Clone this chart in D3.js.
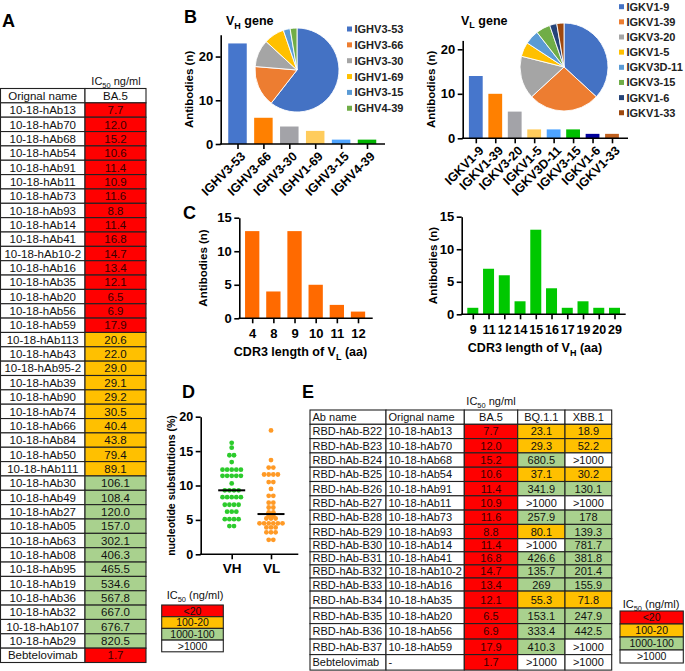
<!DOCTYPE html>
<html><head><meta charset="utf-8">
<script src="https://cdn.jsdelivr.net/npm/d3@7"></script>
<style>
body{margin:0;background:#fff}
svg{display:block}
text{font-family:"Liberation Sans",Arial,Helvetica,sans-serif}
</style>
</head><body>
<svg id="c" width="685" height="671"></svg>
<script>
// ---------------- DATA ----------------
const tableANames = ["10-18-hAb13","10-18-hAb70","10-18-hAb68","10-18-hAb54","10-18-hAb91","10-18-hAb11","10-18-hAb73","10-18-hAb93","10-18-hAb14","10-18-hAb41","10-18-hAb10-2","10-18-hAb16","10-18-hAb35","10-18-hAb20","10-18-hAb56","10-18-hAb59","10-18-hAb113","10-18-hAb43","10-18-hAb95-2","10-18-hAb39","10-18-hAb90","10-18-hAb74","10-18-hAb66","10-18-hAb84","10-18-hAb50","10-18-hAb111","10-18-hAb30","10-18-hAb49","10-18-hAb27","10-18-hAb05","10-18-hAb63","10-18-hAb08","10-18-hAb95","10-18-hAb19","10-18-hAb36","10-18-hAb32","10-18-hAb107","10-18-hAb29","Bebtelovimab"];
const tableABA5 = ["7.7","12.0","15.2","10.6","11.4","10.9","11.6","8.8","11.4","16.8","14.7","13.4","12.1","6.5","6.9","17.9","20.6","22.0","29.0","29.1","29.2","30.5","40.4","43.8","79.4","89.1","106.1","108.4","120.0","157.0","302.1","406.3","465.5","534.6","567.8","667.0","676.7","820.5","1.7"];

const vhGenes = ["IGHV3-53","IGHV3-66","IGHV3-30","IGHV1-69","IGHV3-15","IGHV4-39"];
const vhCounts = [23,6,4,3,1,1];
const vhBarColors = ["#4676cc","#ff8000","#a3a3a8","#ffcc5c","#4ea4ff","#00b400"];
const vhPieColors = ["#4472c4","#ed7d31","#a5a5a5","#ffc000","#5b9bd5","#70ad47"];

const vlGenes = ["IGKV1-9","IGKV1-39","IGKV3-20","IGKV1-5","IGKV3D-11","IGKV3-15","IGKV1-6","IGKV1-33"];
const vlCounts = [14,10,6,2,2,2,1,1];
const vlBarColors = ["#4676cc","#ff8000","#a3a3a8","#ffcc5c","#4ea4ff","#00bf00","#00009c","#c0601e"];
const vlPieColors = ["#4472c4","#ed7d31","#a5a5a5","#ffc000","#5b9bd5","#70ad47","#264478","#9e480e"];

const cdrLLengths = ["4","8","9","10","11","12"];
const cdrLCounts = [13,4,13,5,2,1];
const cdrHLengths = ["9","11","12","14","15","16","17","19","20","29"];
const cdrHCounts = [1,7,6,2,13,4,1,2,1,1];

const vhSubst = [16.2,15.5,14.4,14.4,13.4,12.3,12.3,12.3,12.3,12.3,11.4,11.4,11.4,11.4,11.4,10.3,9.3,9.3,9.3,9.3,8.3,8.3,8.3,8.3,8.3,7.2,7.2,7.2,7.2,6.2,6.2,6.2,5.1,5.1,5.1,5.1,4.1,4.1];
const vlSubst = [18.0,13.7,12.6,12.6,11.6,11.6,11.6,11.6,10.5,10.5,9.5,8.5,8.5,7.5,7.5,6.8,6.8,6.1,6.1,5.6,5.6,5.2,5.2,5.2,4.5,4.5,4.5,4.5,4.5,4.5,3.9,3.9,3.9,3.2,3.2,3.2,2.1,2.1];

const eAbNames = ["RBD-hAb-B22","RBD-hAb-B23","RBD-hAb-B24","RBD-hAb-B25","RBD-hAb-B26","RBD-hAb-B27","RBD-hAb-B28","RBD-hAb-B29","RBD-hAb-B30","RBD-hAb-B31","RBD-hAb-B32","RBD-hAb-B33","RBD-hAb-B34","RBD-hAb-B35","RBD-hAb-B36","RBD-hAb-B37","Bebtelovimab"];
const eOrigNames = ["10-18-hAb13","10-18-hAb70","10-18-hAb68","10-18-hAb54","10-18-hAb91","10-18-hAb11","10-18-hAb73","10-18-hAb93","10-18-hAb14","10-18-hAb41","10-18-hAb10-2","10-18-hAb16","10-18-hAb35","10-18-hAb20","10-18-hAb56","10-18-hAb59","-"];
const eBA5 = ["7.7","12.0","15.2","10.6","11.4","10.9","11.6","8.8","11.4","16.8","14.7","13.4","12.1","6.5","6.9","17.9","1.7"];
const eBQ11 = ["23.1","29.3","680.5","37.1","341.9",">1000","257.9","80.1",">1000","426.6","135.7","269","55.3","153.1","333.4","410.3",">1000"];
const eXBB1 = ["18.9","52.2",">1000","30.2","130.1",">1000","178","139.3","781.7","381.8","201.4","155.9","71.8","247.9","442.5",">1000",">1000"];
const eXBB1Level = ["100-20","100-20",">1000","100-20","1000-100",">1000","1000-100","1000-100","1000-100","1000-100","1000-100","1000-100","100-20","1000-100","1000-100",">1000",">1000"];

const icLevels = ["<20","100-20","1000-100",">1000"];
const icColors = ["#ff0000","#ffc000","#a9d18e","#ffffff"];

// ---------------- HELPERS ----------------
const svg = d3.select("#c");
svg.append("rect").attr("width",685).attr("height",671).attr("fill","#fff");
const FONT = '"Liberation Sans",Arial,Helvetica,sans-serif';
const levelOf = d3.scaleThreshold().domain([20,100,1000]).range(icLevels);
const levelColor = d3.scaleOrdinal(icLevels, icColors);
const valLevel = v => levelOf(v.startsWith(">") ? 1e9 : +v);

function panelLetter(t,x,y){
  svg.append("text").attr("x",x).attr("y",y).attr("font-size",18).attr("font-weight","bold").text(t);
}
function icLabel(g,x,y,tail,size){
  const t = g.append("text").attr("x",x).attr("y",y).attr("text-anchor","middle").attr("font-size",size).attr("fill","#111");
  t.append("tspan").text("IC");
  t.append("tspan").attr("font-size",size*0.68).attr("dy",size*0.25).text("50");
  t.append("tspan").attr("dy",-size*0.25).text(tail);
}
function cell(g,x0,x1,y0,y1,txt,fill,align,size,color){
  g.append("rect").attr("x",x0).attr("y",y0).attr("width",x1-x0).attr("height",y1-y0)
    .attr("fill",fill).attr("stroke","#222").attr("stroke-width",1.1);
  const tx = align==="left" ? x0+2.5 : (x0+x1)/2;
  g.append("text").attr("x",tx).attr("y",(y0+y1)/2+size*0.36)
    .attr("text-anchor",align==="left"?"start":"middle").attr("font-size",size)
    .attr("fill",color||"#111").text(txt);
}
const textColFor = lv => lv==="<20" ? "#3a0000" : "#111";

// ---------------- PANEL A ----------------
panelLetter("A",2,27);
{
  const g = svg.append("g");
  const cols = [0.5,85,146];
  const rowY = d3.scaleLinear().domain([0,40]).range([88.5,88.5+40*14.35]);
  icLabel(g,116,85,"  ng/ml",11);
  cell(g,cols[0],cols[1],rowY(0),rowY(1),"Orignal name","#fff","center",11.5);
  cell(g,cols[1],cols[2],rowY(0),rowY(1),"BA.5","#fff","center",11.5);
  tableANames.forEach((n,i)=>{
    const lv = valLevel(tableABA5[i]);
    cell(g,cols[0],cols[1],rowY(i+1),rowY(i+2),n,"#fff","center",11.5);
    cell(g,cols[1],cols[2],rowY(i+1),rowY(i+2),tableABA5[i],levelColor(lv),"center",11.5,textColFor(lv));
  });
}

// ---------------- AXIS HELPERS ----------------
function styleAxis(sel){
  sel.select(".domain").attr("stroke","#000").attr("stroke-width",1.6);
  sel.selectAll(".tick line").attr("stroke","#000").attr("stroke-width",1.6);
  sel.selectAll(".tick text").attr("font-family",FONT).attr("font-weight","bold").attr("fill","#000");
}
function yLabel(x,y,txt,size){
  svg.append("text").attr("transform",`translate(${x},${y}) rotate(-90)`).attr("text-anchor","middle")
    .attr("dy","0.35em").attr("font-size",size).attr("font-weight","bold").text(txt);
}
function barChart(o){
  const g = svg.append("g");
  const y = d3.scaleLinear().domain([0,o.ymax]).range([o.yBottom,o.yTop]);
  const x = d3.scalePoint().domain(o.cats).range([o.c0,o.c1]);
  g.selectAll("rect.bar").data(o.vals).join("rect").attr("class","bar")
    .attr("x",(d,i)=>x(o.cats[i])-o.bw/2).attr("y",d=>y(d))
    .attr("width",o.bw).attr("height",d=>y(0)-y(d))
    .attr("fill",(d,i)=>Array.isArray(o.colors)?o.colors[i]:o.colors);
  const ya = g.append("g").attr("transform",`translate(${o.axX},0)`)
    .call(d3.axisLeft(y).tickValues(o.ticks).tickSize(5).tickSizeOuter(0).tickPadding(2.5).tickFormat(d3.format("d")));
  styleAxis(ya); ya.selectAll(".tick text").attr("font-size",o.yFont||13);
  g.append("line").attr("x1",o.axX-0.8).attr("x2",o.xEnd).attr("y1",y(0)).attr("y2",y(0)).attr("stroke","#000").attr("stroke-width",1.6);
  const xa = g.append("g").attr("transform",`translate(0,${y(0)})`)
    .call(d3.axisBottom(x).tickSize(5).tickSizeOuter(0).tickPadding(o.rotate?3:5.5));
  xa.select(".domain").remove();
  styleAxis(xa); xa.selectAll(".tick text").attr("font-size",o.xFont||13);
  if(o.rotate){
    xa.selectAll(".tick text").attr("text-anchor","end").attr("dy","0.35em")
      .attr("transform","translate(5,10) rotate(-45)").attr("y",0).attr("x",0);
  }
  return {x,y};
}
function pie(cx,cy,r,vals,colors){
  const arcs = d3.pie().sort(null).value(d=>d)(vals);
  const arc = d3.arc().innerRadius(0).outerRadius(r);
  svg.append("g").attr("transform",`translate(${cx},${cy})`).selectAll("path").data(arcs).join("path")
    .attr("d",arc).attr("fill",(d,i)=>colors[i]).attr("stroke","#fff").attr("stroke-width",0.9);
}
function geneLegend(x,y0,step,names,colors){
  const g = svg.append("g");
  names.forEach((n,i)=>{
    const yy = y0+i*step;
    g.append("rect").attr("x",x).attr("y",yy-2.5).attr("width",5).attr("height",5).attr("fill",colors[i]);
    g.append("text").attr("x",x+7.5).attr("y",yy+4).attr("font-size",11).attr("font-weight","bold").attr("fill","#222").text(n);
  });
}
function subTitle(x,y,main,sub,tail,size,anchor){
  const t = svg.append("text").attr("x",x).attr("y",y).attr("font-size",size).attr("font-weight","bold").attr("text-anchor",anchor||"start");
  t.append("tspan").text(main);
  t.append("tspan").attr("font-size",size*0.72).attr("dy",size*0.3).text(sub);
  t.append("tspan").attr("dy",-size*0.3).text(tail);
}

// ---------------- PANEL B ----------------
panelLetter("B",184,23);
barChart({cats:vhGenes,vals:vhCounts,colors:vhBarColors,ymax:25,yBottom:144,yTop:34.7,ticks:[0,10,20],
  c0:237.5,c1:367,bw:18.5,axX:220.7,xEnd:385,rotate:true,xFont:12.5});
yLabel(189,89.4,"Antibodies (n)",11.5);
subTitle(226,25.3,"V","H"," gene",12.5);
pie(297,70,42,vhCounts,vhPieColors);
geneLegend(347,29,15.85,vhGenes,vhPieColors);

barChart({cats:vlGenes,vals:vlCounts,colors:vlBarColors,ymax:22,yBottom:138.3,yTop:40.4,ticks:[0,10,20],
  c0:475.8,c1:612,bw:13.8,axX:462.7,xEnd:628,rotate:true,xFont:12.5});
yLabel(431,89.4,"Antibodies (n)",11.5);
subTitle(461,24.5,"V","L"," gene",12.5);
pie(564,67,44,vlCounts,vlPieColors);
geneLegend(619,6.7,15.15,vlGenes,vlPieColors);

// ---------------- PANEL C ----------------
panelLetter("C",183,219);
barChart({cats:cdrLLengths,vals:cdrLCounts,colors:"#ff6a00",ymax:15,yBottom:318.3,yTop:217.7,ticks:[0,5,10,15],
  c0:252.2,c1:358,bw:14.3,axX:239.3,xEnd:372.7});
yLabel(203.3,268,"Antibodies (n)",11.5);
subTitle(300.5,356,"CDR3 length of V","L","  (aa)",12.5,"middle");

barChart({cats:cdrHLengths,vals:cdrHCounts,colors:"#00c800",ymax:15,yBottom:314.3,yTop:216.7,ticks:[0,5,10,15],
  c0:472.8,c1:614.5,bw:11,axX:461.7,xEnd:625.7,xFont:12.5});
yLabel(432.5,265.5,"Antibodies (n)",11.5);
subTitle(535,352,"CDR3 length of V","H"," (aa)",12.5,"middle");

// ---------------- PANEL D ----------------
panelLetter("D",182,398);
{
  const g = svg.append("g");
  const y = d3.scaleLinear().domain([0,20]).range([554.3,416.7]);
  const x = d3.scalePoint().domain(["VH","VL"]).range([231.7,271]);
  const ya = g.append("g").attr("transform","translate(200.7,0)")
    .call(d3.axisLeft(y).tickValues([0,5,10,15,20]).tickSize(5).tickSizeOuter(0).tickPadding(2.5));
  styleAxis(ya); ya.selectAll(".tick text").attr("font-size",12.5);
  g.append("line").attr("x1",199.9).attr("x2",298.3).attr("y1",y(0)).attr("y2",y(0)).attr("stroke","#000").attr("stroke-width",1.6);
  const xa = g.append("g").attr("transform",`translate(0,${y(0)})`)
    .call(d3.axisBottom(x).tickSize(5).tickSizeOuter(0).tickPadding(4));
  xa.select(".domain").remove(); styleAxis(xa); xa.selectAll(".tick text").attr("font-size",13.5);
  const groups = [["VH",vhSubst,"#2ccb2c"],["VL",vlSubst,"#ff9a26"]];
  groups.forEach(([k,vals,col])=>{
    const byVal = d3.group(vals, v=>v);
    const pts = [];
    byVal.forEach((arr,v)=>arr.forEach((_,i)=>pts.push({v,off:(i-(arr.length-1)/2)*4.6})));
    g.append("g").selectAll("circle").data(pts).join("circle")
      .attr("cx",d=>x(k)+d.off).attr("cy",d=>y(d.v)).attr("r",2.4).attr("fill",col);
    const med = d3.median(vals);
    g.append("line").attr("x1",x(k)-13.5).attr("x2",x(k)+13.5).attr("y1",y(med)).attr("y2",y(med))
      .attr("stroke","#000").attr("stroke-width",2);
  });
  yLabel(171,485.5,"nucleotide substitutions (%)",10.5);
}

// ---------------- LEGENDS ----------------
function icLegend(x0,x1,y0,rowH,titleX,titleY){
  const g = svg.append("g");
  icLabel(g,titleX,titleY," (ng/ml)",11);
  icLevels.forEach((lv,i)=>{
    cell(g,x0,x1,y0+i*rowH,y0+(i+1)*rowH,lv,levelColor(lv),"center",10.5,"#111");
  });
}
icLegend(161.7,223.3,605,11.7,195,599);
icLegend(620,683.3,611,13,651,608);

// ---------------- PANEL E ----------------
panelLetter("E",302,398);
{
  const g = svg.append("g");
  const cols = [310,386,464.3,517.7,565,611.7];
  const heights = [14.3,14.3,14.3,14.3,14.3,14.3,14.3,14.3,14.3,13.1,13.1,13.1,13.1,17,15.5,15.5,15.5,15.5];
  const ys = [410]; heights.forEach(h=>ys.push(ys[ys.length-1]+h));
  icLabel(g,491,405,"  ng/ml",11);
  const hdr = ["Ab name","Orignal name","BA.5","BQ.1.1","XBB.1"];
  hdr.forEach((h,j)=>cell(g,cols[j],cols[j+1],ys[0],ys[1],h,"#fff",j<2?"left":"center",11));
  eAbNames.forEach((n,i)=>{
    const r0 = ys[i+1], r1 = ys[i+2];
    cell(g,cols[0],cols[1],r0,r1,n,"#fff","left",11);
    cell(g,cols[1],cols[2],r0,r1,eOrigNames[i],"#fff","left",11);
    const lvA = valLevel(eBA5[i]);
    cell(g,cols[2],cols[3],r0,r1,eBA5[i],levelColor(lvA),"center",11,textColFor(lvA));
    const lvB = valLevel(eBQ11[i]);
    cell(g,cols[3],cols[4],r0,r1,eBQ11[i],levelColor(lvB),"center",11,textColFor(lvB));
    const lvX = eXBB1Level[i];
    cell(g,cols[4],cols[5],r0,r1,eXBB1[i],levelColor(lvX),"center",11,textColFor(lvX));
  });
}
</script>
</body></html>
